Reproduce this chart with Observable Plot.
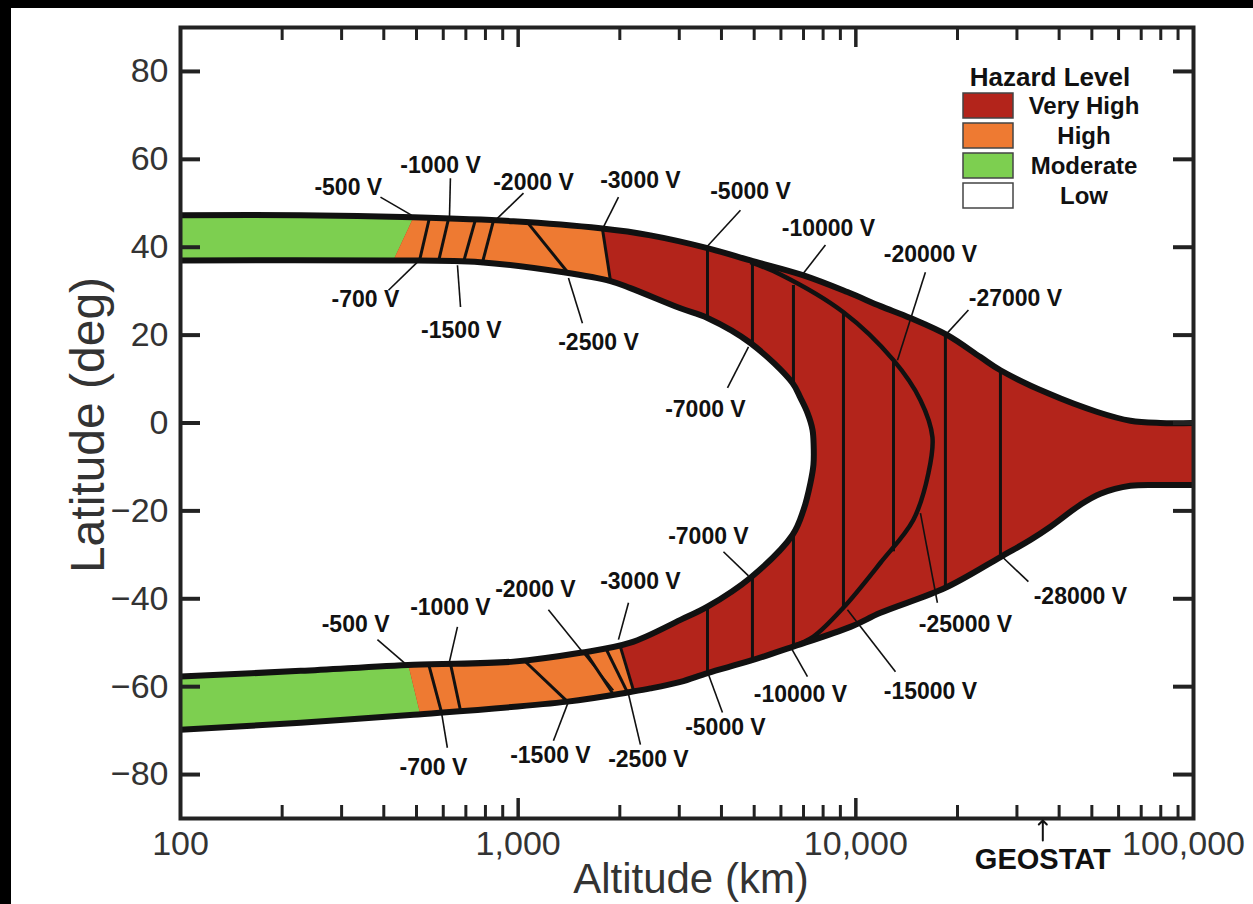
<!DOCTYPE html>
<html><head><meta charset="utf-8">
<script src="https://cdn.jsdelivr.net/npm/d3@7"></script>
<script src="https://cdn.jsdelivr.net/npm/@observablehq/plot@0.6"></script>
<style>
body{margin:0;background:#fff;font-family:"Liberation Sans",Arial,sans-serif;}
#wrap{position:relative;width:1253px;height:904px;overflow:hidden;background:#fff;}
#topbar{position:absolute;left:0;top:0;width:1253px;height:8px;background:#000;}
#leftbar{position:absolute;left:0;top:0;width:11px;height:904px;background:#000;}
#chart{position:absolute;left:0;top:0;}
</style></head>
<body><div id="wrap"><div id="chart"></div><div id="topbar"></div><div id="leftbar"></div></div>
<script>
// ---------- DATA (altitude km, latitude deg) ----------
const northOuter = [[100,47.3],[227,47.3],[490,46.8],[968,45.9],[1752,44.3],[2465,42.7],[3636,39.8],[4875,37.0],[7000,33.6],[9444,29.8],[11830,26.6],[14510,23.9],[18672,20.0],[23388,15.0],[26808,12.0],[36940,6.8],[51924,2.5],[65040,0.5],[79800,0],[100000,0]];
const southOuter = [[100,-69.8],[227,-68.2],[490,-66.4],[1400,-63.4],[2150,-61.2],[2465,-60.4],[3024,-58.9],[3636,-56.9],[4875,-54.1],[6402,-51.1],[9638,-46.4],[11830,-43.2],[18420,-37.5],[26808,-30.5],[32885,-26.6],[37700,-23.6],[46238,-18.6],[53000,-16.1],[65040,-14.3],[79800,-14.1],[100000,-14.1]];
const innerNorth = [[100,37.0],[419,37.0],[773,36.6],[1362,34.3],[1877,32.3],[2150,30.7],[3024,26.1],[3636,23.9],[4875,18.2],[6492,9.1],[6855,5.7],[7190,2.3],[7440,-1.5],[7500,-5]];
const innerSouth = [[100,-57.7],[227,-56.4],[490,-55.0],[968,-54.3],[1529,-52.3],[2150,-50.0],[3024,-44.8],[3636,-41.8],[4875,-35.2],[6492,-25.5],[6997,-19.8],[7339,-13.6],[7490,-9.5],[7500,-5]];
const shellCurve = [[4875,36.6],[5979,33.8],[9191,25.2],[12926,14.3],[15535,5.2],[16858,-3.2],[16406,-11.4],[14810,-22.0],[11830,-31.8],[9191,-42.0],[7490,-48.6],[6402,-51.1]];

// band cuts: [voltage, altitude on upper edge, altitude on lower edge]
const northCuts = [[-500,490,427],[-700,546,510],[-1000,622,581],[-1500,747,689],[-2000,845,784],[-2500,1065,1409],[-3000,1776,1877]];
const southCuts = [[-500,473,513],[-700,543,593],[-1000,630,675],[-1500,1040,1400],[-2000,1582,1915],[-2500,1814,2107],[-3000,2000,2200]];

// constant-potential segments in the Very High region: [altitude, lat top, lat bottom]
const potentialSegments = [[3636,39.8,23.9],[3636,-41.8,-56.9],[4941,36.6,17.9],[4941,-35.2,-54.1],[6535,31.4,8.9],[6535,-25.3,-51.0],[9191,25.2,-42.0],[12926,14.0,-29.2],[18420,20.0,-37.5],[26808,12.0,-30.5]];

// labels: [text, alt, lat, leader alt1, lat1, alt2, lat2]
const labelsNorth = [
  ["-500 V",314,53.6,391,51.4,483,47.3],
  ["-1000 V",589,58.6,630,55.7,626,46.8],
  ["-2000 V",1110,54.8,1037,52.3,845,45.7],
  ["-3000 V",2302,55.2,1982,51.4,1776,44.1],
  ["-5000 V",4875,52.7,4553,48.4,3611,40.0],
  ["-10000 V",8296,44.3,8128,40.5,6950,33.8],
  ["-20000 V",16630,38.4,16070,34.3,13285,14.3],
  ["-27000 V",29700,28.4,21550,25.7,18420,20.0],
  ["-700 V",353,28.0,413,30.2,503,36.6],
  ["-1500 V",679,21.1,675,26.4,661,35.9],
  ["-2500 V",1729,18.4,1550,22.7,1409,33.0],
  ["-7000 V",3586,3.0,4168,8.0,4810,17.3]
];
const labelsSouth = [
  ["-7000 V",3660,-25.9,4055,-29.3,4810,-34.8],
  ["-500 V",330,-45.9,383,-49.3,464,-54.8],
  ["-1000 V",630,-42.0,661,-46.4,622,-55.2],
  ["-2000 V",1125,-38.0,1229,-42.5,1915,-60.8],
  ["-3000 V",2302,-36.1,2122,-40.9,1982,-49.3],
  ["-700 V",561,-78.4,617,-73.9,593,-65.9],
  ["-1500 V",1246,-75.7,1272,-72.3,1409,-63.4],
  ["-2500 V",2431,-76.6,2302,-73.2,2107,-60.7],
  ["-5000 V",4110,-69.3,4027,-65.9,3636,-56.6],
  ["-10000 V",6853,-61.8,7190,-57.7,6402,-50.9],
  ["-15000 V",16630,-61.1,13104,-56.6,9444,-42.5],
  ["-25000 V",21110,-45.9,17440,-40.9,15535,-20.5],
  ["-28000 V",46238,-39.5,32440,-36.1,27170,-30.5]
];

const xMajor = [100,1000,10000,100000];
const xMajorLabels = ["100","1,000","10,000","100,000"];
const xMinor = [200,300,400,500,600,700,800,900,2000,3000,4000,5000,6000,7000,8000,9000,20000,30000,40000,50000,60000,70000,80000,90000];
const yTicks = [80,60,40,20,0,-20,-40,-60,-80];
const geostat = [{alt:35786, name:"GEOSTAT"}];

const legendLevels = ["Very High","High","Moderate","Low"];
const legendColors = ["#b3241b","#ee7a32","#7dcf50","#ffffff"];
const RED = legendColors[0], ORANGE = legendColors[1], GREEN = legendColors[2];

// ---------- geometry helpers ----------
function latAt(edge, a){
  const la = Math.log10(a);
  for(let i=0;i<edge.length-1;i++){
    const x0=Math.log10(edge[i][0]), x1=Math.log10(edge[i+1][0]);
    if(la>=x0 && la<=x1){ const t=(la-x0)/(x1-x0); return edge[i][1]+t*(edge[i+1][1]-edge[i][1]); }
  }
  return la < Math.log10(edge[0][0]) ? edge[0][1] : edge[edge.length-1][1];
}
function sub(edge,a0,a1){
  const pts=[[a0,latAt(edge,a0)]];
  for(const p of edge) if(p[0]>a0 && p[0]<a1) pts.push(p);
  pts.push([a1,latAt(edge,a1)]);
  return pts;
}
const rev = a => a.slice().reverse();
const cut = (list,v) => list.find(c=>c[0]===v);

const n500=cut(northCuts,-500), n3000=cut(northCuts,-3000);
const s500=cut(southCuts,-500), s3000=cut(southCuts,-3000);

const redPoly = [...northOuter, ...rev(southOuter), ...innerSouth, ...rev(innerNorth)];
const greenN = [...sub(northOuter,100,n500[1]), ...rev(sub(innerNorth,100,n500[2]))];
const orangeN = [...sub(northOuter,n500[1],n3000[1]), ...rev(sub(innerNorth,n500[2],n3000[2]))];
const greenS = [...sub(innerSouth,100,s500[1]), ...rev(sub(southOuter,100,s500[2]))];
const orangeS = [...sub(innerSouth,s500[1],s3000[1]), ...rev(sub(southOuter,s500[2],s3000[2]))];
const innerLine = [...innerNorth, ...rev(innerSouth).slice(1)];

const cutLines = [
  ...northCuts.filter(c=>c[0]!==-500).map(c=>({a1:c[1],l1:latAt(northOuter,c[1]),a2:c[2],l2:latAt(innerNorth,c[2])})),
  ...southCuts.filter(c=>c[0]!==-500).map(c=>({a1:c[1],l1:latAt(innerSouth,c[1]),a2:c[2],l2:latAt(southOuter,c[2])}))
];
const allLabels = [...labelsNorth, ...labelsSouth];

const fill = (pts,color) => Plot.line(pts,{x:d=>d[0],y:d=>d[1],fill:color,stroke:"none",curve:"linear"});
const stroke = (pts,w) => Plot.line(pts,{x:d=>d[0],y:d=>d[1],stroke:"#111",strokeWidth:w,curve:"catmull-rom",strokeLinecap:"butt"});
const fmtY = d => d<0 ? "\u2212"+Math.abs(d) : String(d);

const chart = Plot.plot({
  width:1253, height:904,
  marginLeft:180, marginRight:60, marginTop:27, marginBottom:86,
  style:{fontFamily:"'Liberation Sans', Arial, sans-serif", background:"transparent", color:"#111"},
  x:{type:"log", domain:[100,100000], axis:null},
  y:{domain:[-90,90], axis:null},
  marks:[
    fill(redPoly,RED),
    fill(greenN,GREEN), fill(orangeN,ORANGE), fill(greenS,GREEN), fill(orangeS,ORANGE),
    Plot.link(cutLines,{x1:"a1",y1:"l1",x2:"a2",y2:"l2",stroke:"#111",strokeWidth:3}),
    Plot.link(potentialSegments,{x1:d=>d[0],x2:d=>d[0],y1:d=>d[1],y2:d=>d[2],stroke:"#111",strokeWidth:3}),
    stroke(shellCurve,4.5),
    stroke(northOuter,6), stroke(southOuter,6), stroke(innerLine,6),
    Plot.link(allLabels,{x1:d=>d[3],y1:d=>d[4],x2:d=>d[5],y2:d=>d[6],stroke:"#111",strokeWidth:1.6}),
    Plot.text(allLabels,{x:d=>d[1],y:d=>d[2],text:d=>d[0],fontSize:23,fontWeight:"bold",fill:"#111",lineAnchor:"middle"}),
    // ticks
    Plot.tickY(yTicks,{y:d=>d,insetRight:993,stroke:"#222",strokeWidth:4}),
    Plot.tickY(yTicks,{y:d=>d,insetLeft:993,stroke:"#222",strokeWidth:4}),
    Plot.tickX(xMajor.slice(1,3),{x:d=>d,insetTop:771,stroke:"#222",strokeWidth:3.5}),
    Plot.tickX(xMajor.slice(1,3),{x:d=>d,insetBottom:771,stroke:"#222",strokeWidth:3.5}),
    Plot.tickX(xMinor,{x:d=>d,insetTop:778,stroke:"#222",strokeWidth:3}),
    Plot.tickX(xMinor,{x:d=>d,insetBottom:778,stroke:"#222",strokeWidth:3}),
    Plot.frame({stroke:"#222",strokeWidth:4}),
    // tick labels
    Plot.text(yTicks,{y:d=>d,frameAnchor:"left",text:fmtY,textAnchor:"end",dx:-12,fontSize:34,fill:"#333"}),
    Plot.text(xMajor.slice(0,3),{x:d=>d,frameAnchor:"bottom",text:(d,i)=>xMajorLabels[i],lineAnchor:"top",dy:12,fontSize:34,fill:"#333"}),
    Plot.text(xMajor.slice(3),{x:d=>d,frameAnchor:"bottom",text:()=>xMajorLabels[3],lineAnchor:"top",dy:12,dx:-10,fontSize:34,fill:"#333"}),
    // axis titles
    Plot.text(["Latitude (deg)"],{frameAnchor:"left",dx:-92,dy:2,rotate:-90,textAnchor:"middle",lineAnchor:"middle",fontSize:48,fill:"#333"}),
    Plot.text(["Altitude (km)"],{frameAnchor:"bottom",dy:74,dx:4,textAnchor:"middle",lineAnchor:"bottom",fontSize:42,fill:"#333"}),
    // GEOSTAT
    Plot.text(geostat,{x:"alt",text:"name",frameAnchor:"bottom",lineAnchor:"bottom",dy:50,fontWeight:"bold",fontSize:29,fill:"#111"}),
    Plot.vector(geostat,{x:"alt",frameAnchor:"bottom",dy:22,length:20,rotate:0,anchor:"start",stroke:"#111",strokeWidth:2})
  ]
});
document.getElementById("chart").appendChild(chart);

// legend inside the frame
const svg = d3.select(chart);
const lg = svg.append("g").attr("font-family","'Liberation Sans', Arial, sans-serif").attr("font-weight","bold").attr("fill","#111");
lg.append("text").attr("x",1050).attr("y",85.5).attr("text-anchor","middle").attr("font-size",26).text("Hazard Level");
legendLevels.forEach((lev,i)=>{
  const y0 = 93 + i*30;
  lg.append("rect").attr("x",963).attr("y",y0).attr("width",50).attr("height",25).attr("fill",legendColors[i]).attr("stroke","#444").attr("stroke-width",1.5);
  lg.append("text").attr("x",1084).attr("y",y0+12.5+8.4).attr("text-anchor","middle").attr("font-size",24).text(lev);
});
</script></body></html>
